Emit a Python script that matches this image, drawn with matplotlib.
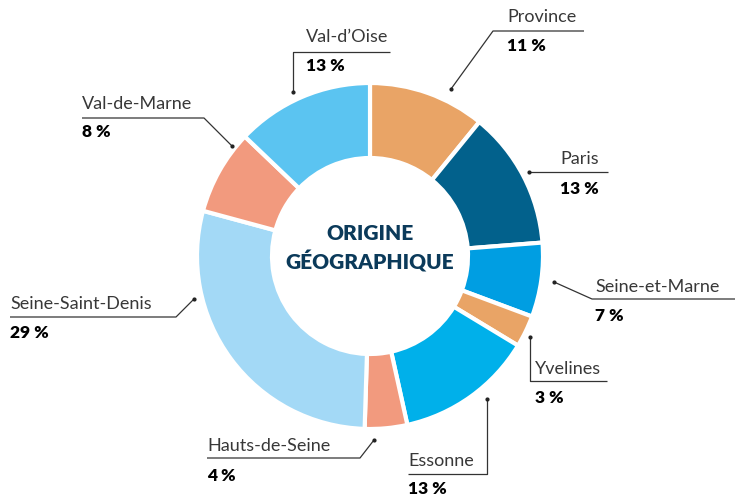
import matplotlib.pyplot as plt

regions = ['Province', 'Paris', 'Seine-et-Marne', 'Yvelines', 'Essonne',
           'Hauts-de-Seine', 'Seine-Saint-Denis', 'Val-de-Marne', "Val-d\u2019Oise"]
shares = [11, 13, 7, 3, 13, 4, 29, 8, 13]
colors = ['#E9A466', '#02618C', '#009EE2', '#E9A466', '#00B0EA',
          '#F29A7E', '#A3D9F6', '#F29A7E', '#5BC4F1']

H = 496


def Y(y):
    return H - y


fig = plt.figure(figsize=(7.35, 4.96), dpi=100)
ax = fig.add_axes([0, 0, 1, 1])

ax.pie(shares, colors=colors, startangle=90, counterclock=False,
       center=(370, Y(256)), radius=173,
       wedgeprops=dict(width=75, edgecolor='white', linewidth=3))

ax.set_xlim(0, 735)
ax.set_ylim(0, H)
ax.set_aspect('equal')
ax.axis('off')

ax.text(370, Y(234), 'ORIGINE', ha='center', va='center', fontsize=15,
        fontweight='heavy', color='#0B3A5A', family='Lato')
ax.text(370, Y(262), 'GÉOGRAPHIQUE', ha='center', va='center', fontsize=15,
        fontweight='heavy', color='#0B3A5A', family='Lato')

# leader lines: dot, elbow, end ; text x, name y, percent y
leaders = {
    'Province': ([(451, 89), (493, 31), (584, 31)], 507, 17, 46),
    "Val-d\u2019Oise": ([(293, 92), (293, 52), (390, 52)], 306, 37, 66),
    'Val-de-Marne': ([(232, 146), (204, 118), (82, 118)], 82, 104, 132),
    'Paris': ([(529, 172), (608, 172)], 560, 159, 189),
    'Seine-et-Marne': ([(554, 282), (592, 299), (735, 299)], 595, 287, 316),
    'Seine-Saint-Denis': ([(194, 299), (176, 317), (10, 317)], 10, 304, 333),
    'Yvelines': ([(530, 337), (530, 381), (607, 381)], 535, 369, 398),
    'Essonne': ([(487, 399), (487, 474), (408, 474)], 408, 461, 489),
    'Hauts-de-Seine': ([(374, 440), (360, 458), (207, 458)], 207, 446, 476),
}

for name, share in zip(regions, shares):
    pts, tx, ny, py = leaders[name]
    xs = [p[0] for p in pts]
    ys = [Y(p[1]) for p in pts]
    ax.plot(xs, ys, color='#333333', lw=0.9, solid_capstyle='butt')
    ax.plot(xs[0], ys[0], 'o', color='#222222', ms=2)
    ax.text(tx, Y(ny), name, ha='left', va='center', fontsize=13,
            color='#383838', family='Lato')
    ax.text(tx, Y(py), f'{share} %', ha='left', va='center', fontsize=12.5,
            color='black', family='Lato', fontweight='heavy')

fig.savefig('out.png', dpi=100)
